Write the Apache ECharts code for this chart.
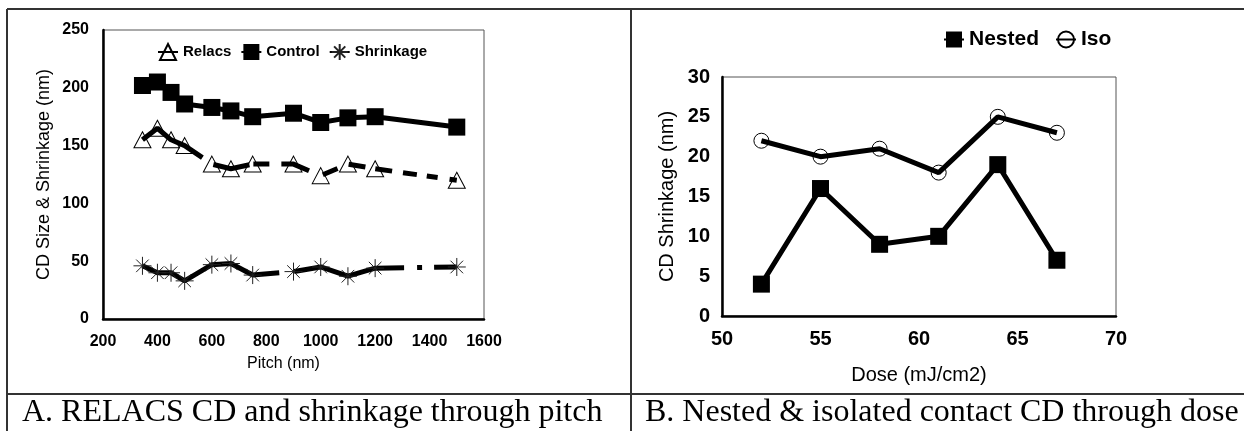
<!DOCTYPE html>
<html>
<head>
<meta charset="utf-8">
<script src="https://cdn.jsdelivr.net/npm/echarts@6/dist/echarts.min.js"></script>
<style>
html, body { margin: 0; padding: 0; background: #fff; }
#main { width: 1244px; height: 431px; }
</style>
</head>
<body>
<div id="main"></div>
<script>
// panel A - RELACS CD and shrinkage through pitch
var pitch = [345, 400, 450, 500, 600, 670, 750, 900, 1000, 1100, 1200, 1500];
var relacs = [155, 165, 155, 150, 134, 130, 134, 134, 124, 134, 130, 120];
var control = [202, 205, 196, 186, 183, 180, 175, 178, 170, 174, 175, 166];
var shrinkage = [46, 40, 40, 33, 47, 48, 38, 41, 45, 37, 44, 45];

// panel B - nested & iso contact CD through dose
var dose = [52, 55, 58, 61, 64, 67];
var nested = [4, 16, 9, 10, 19, 7];
var iso = [22, 20, 21, 18, 25, 23];

var captionA = 'A. RELACS CD and shrinkage through pitch';
var captionB = 'B. Nested & isolated contact CD through dose';

var chartDom = document.getElementById('main');
var myChart = echarts.init(chartDom);

function pairs(xs, ys) {
    return xs.map(function (x, i) { return [x, ys[i]]; });
}

var sans = 'Liberation Sans';
var serif = 'Liberation Serif';
var starPath = 'path://M0,10L20,10M10,0L10,20M3,3L17,17M17,3L3,17';
var clear = 'rgba(0,0,0,0)';

function valueAxis(grid, min, max, step, name, gap, size, namePad) {
    return {
        gridIndex: grid,
        type: 'value',
        min: min,
        max: max,
        interval: step,
        name: name,
        nameLocation: 'middle',
        nameGap: gap,
        nameMoveOverlap: false,
        nameTextStyle: { fontFamily: sans, fontSize: size.name, color: '#000', padding: namePad || 0 },
        axisLine: { show: true, onZero: false, lineStyle: { color: '#000', width: 2.5 } },
        axisTick: { show: false },
        splitLine: { show: false },
        axisLabel: {
            fontFamily: sans, fontSize: size.label, fontWeight: 'bold', color: '#000', margin: size.margin,
            formatter: function (v) { return String(v); }
        }
    };
}

function frameLine(x1, y1, x2, y2) {
    return { type: 'line', shape: { x1: x1, y1: y1, x2: x2, y2: y2 }, style: { stroke: '#333', lineWidth: 2 }, silent: true };
}

let option = {
    animation: false,
    backgroundColor: '#fff',
    title: [{
        text: captionA, left: 22, top: 397, padding: 0,
        textStyle: { fontFamily: serif, fontSize: 32, fontWeight: 'normal', color: '#000' }
    }, {
        text: captionB, left: 645, top: 397, padding: 0,
        textStyle: { fontFamily: serif, fontSize: 32, fontWeight: 'normal', color: '#000' }
    }],
    legend: [{
        data: ['Relacs', 'Control', 'Shrinkage'],
        left: 157, top: 43, padding: 0,
        itemWidth: 20, itemHeight: 20, itemGap: 9,
        textStyle: { fontFamily: sans, fontSize: 15, fontWeight: 'bold', color: '#000' }
    }, {
        data: ['Nested', 'Iso'],
        left: 943, top: 29, padding: 0,
        itemWidth: 20, itemHeight: 20, itemGap: 16,
        textStyle: { fontFamily: sans, fontSize: 21, fontWeight: 'bold', color: '#000' }
    }],
    grid: [{
        left: 103, top: 30, width: 381, height: 289,
        show: true, borderColor: '#555', borderWidth: 1, outerBoundsMode: 'none'
    }, {
        left: 722, top: 77, width: 394, height: 239,
        show: true, borderColor: '#555', borderWidth: 1, outerBoundsMode: 'none'
    }],
    xAxis: [
        valueAxis(0, 200, 1600, 200, 'Pitch (nm)', 37, { name: 16, label: 16, margin: 15 }, [0, 20, 0, 0]),
        valueAxis(1, 50, 70, 5, 'Dose (mJ/cm2)', 49, { name: 20, label: 20, margin: 13 })
    ],
    yAxis: [
        valueAxis(0, 0, 250, 50, 'CD Size & Shrinkage (nm)', 50, { name: 18, label: 16, margin: 14 }),
        valueAxis(1, 0, 30, 5, 'CD Shrinkage (nm)', 45, { name: 20, label: 20, margin: 12 })
    ],
    graphic: [
        frameLine(7, 9, 1244, 9),
        frameLine(7, 9, 7, 431),
        frameLine(631, 9, 631, 431),
        frameLine(7, 394, 1244, 394)
    ],
    series: [{
        name: 'Relacs',
        type: 'line',
        xAxisIndex: 0, yAxisIndex: 0,
        data: pairs(pitch, relacs),
        symbol: 'triangle',
        symbolSize: [17, 16],
        itemStyle: { color: clear, borderColor: '#000', borderWidth: 1 },
        lineStyle: { color: '#000', width: 5, type: [73, 13, 37, 4, 16, 12, 29, 15, 16, 12, 17, 10, 17, 11, 14, 10, 11, 12, 10] }
    }, {
        name: 'Control',
        type: 'line',
        xAxisIndex: 0, yAxisIndex: 0,
        data: pairs(pitch, control),
        symbol: 'rect',
        symbolSize: 17,
        itemStyle: { color: '#000' },
        lineStyle: { color: '#000', width: 5 }
    }, {
        name: 'Shrinkage',
        type: 'line',
        xAxisIndex: 0, yAxisIndex: 0,
        data: pairs(pitch, shrinkage),
        symbol: starPath,
        symbolSize: 18,
        itemStyle: { color: clear, borderColor: '#222', borderWidth: 1 },
        lineStyle: { color: '#000', width: 5, type: [148, 15, 113, 13, 5, 12, 40] }
    }, {
        name: 'Nested',
        type: 'line',
        xAxisIndex: 1, yAxisIndex: 1,
        data: pairs(dose, nested),
        symbol: 'rect',
        symbolSize: 17,
        itemStyle: { color: '#000' },
        lineStyle: { color: '#000', width: 5 }
    }, {
        name: 'Iso',
        type: 'line',
        xAxisIndex: 1, yAxisIndex: 1,
        data: pairs(dose, iso),
        symbol: 'circle',
        symbolSize: 15,
        itemStyle: { color: clear, borderColor: '#000', borderWidth: 1 },
        lineStyle: { color: '#000', width: 5 }
    }]
};

option && myChart.setOption(option);
</script>
</body>
</html>
